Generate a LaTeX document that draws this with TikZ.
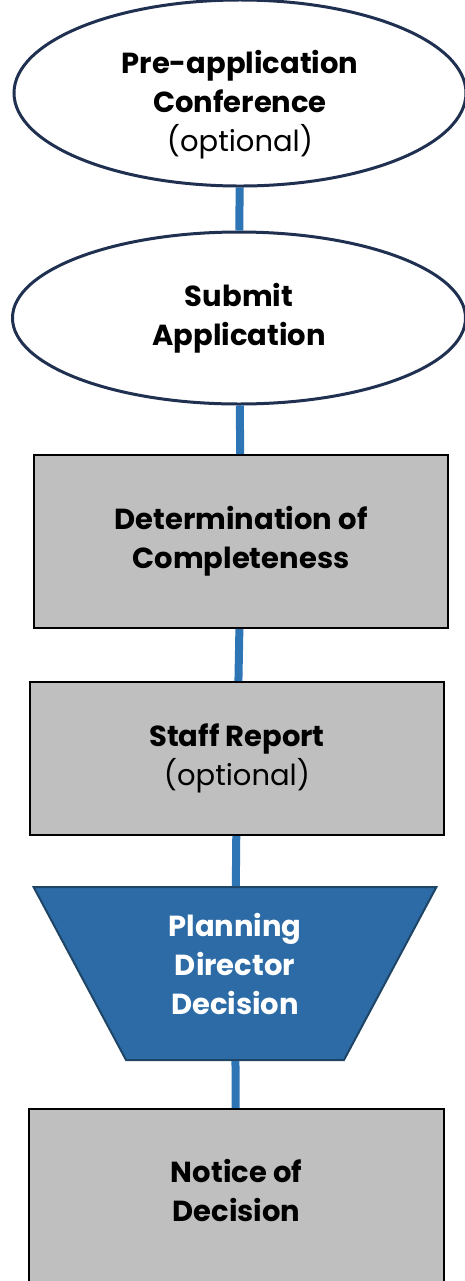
\documentclass[tikz,border=0pt]{standalone}
\usepackage{fontspec}
\setmainfont{Poppins}
\usetikzlibrary{shapes.geometric}

\definecolor{navy}{HTML}{1F3050}
\definecolor{linkblue}{HTML}{2E75B6}
\definecolor{boxgrey}{HTML}{BFBFBF}
\definecolor{decblue}{HTML}{2C6BA6}
\definecolor{decedge}{HTML}{1F4566}

\tikzset{
  oval/.style={draw=navy,line width=1.5pt,ellipse,fill=white,inner sep=0pt,align=center},
  greybox/.style={draw=black,line width=1pt,fill=boxgrey,inner sep=0pt,align=center,minimum width=207pt},
  link/.style={draw=linkblue,line width=4pt}
}

\begin{document}
\begin{tikzpicture}[x=0.5pt,y=-0.5pt,font=\fontsize{14.5}{19.5}\selectfont]
\clip (0,0) rectangle (465,1281);
\useasboundingbox (0,0) rectangle (465,1281);

\node[oval,minimum width=226pt,minimum height=87.5pt] (preapp) at (240,93) {\rule{0pt}{23pt}\textbf{Pre-application}\\\textbf{Conference}\\(optional)};
\node[oval,minimum width=226.5pt,minimum height=86pt] (submit) at (239,318) {\textbf{Submit}\\\textbf{Application}};

\node[greybox,minimum height=86.5pt] (complete) at (241,541.5) {\textbf{Determination of}\\\textbf{Completeness}};
\node[greybox,minimum height=76.5pt] (report) at (237,758.5) {\textbf{Staff Report}\\(optional)};

\node[trapezium,shape border rotate=180,trapezium left angle=65,trapezium right angle=65,
  trapezium stretches=true,minimum width=201.5pt,minimum height=86.5pt,inner sep=0pt,
  draw=decedge,line width=1pt,fill=decblue,text=white,align=center] (decision) at (235,973.5)
  {\textbf{Planning}\\\textbf{Director}\\\textbf{Decision}\rule[-10pt]{0pt}{1pt}};

\node[greybox,anchor=north,minimum width=207.5pt,text depth=70pt,inner ysep=25pt] (notice) at (236.5,1108) {\textbf{Notice of}\\\textbf{Decision}};

\draw[link] (preapp) -- (submit);
\draw[link] (submit) -- (complete);
\draw[link] (complete) -- (report);
\draw[link] (report) -- (decision);
\draw[link] (decision) -- (notice);
\end{tikzpicture}
\end{document}
